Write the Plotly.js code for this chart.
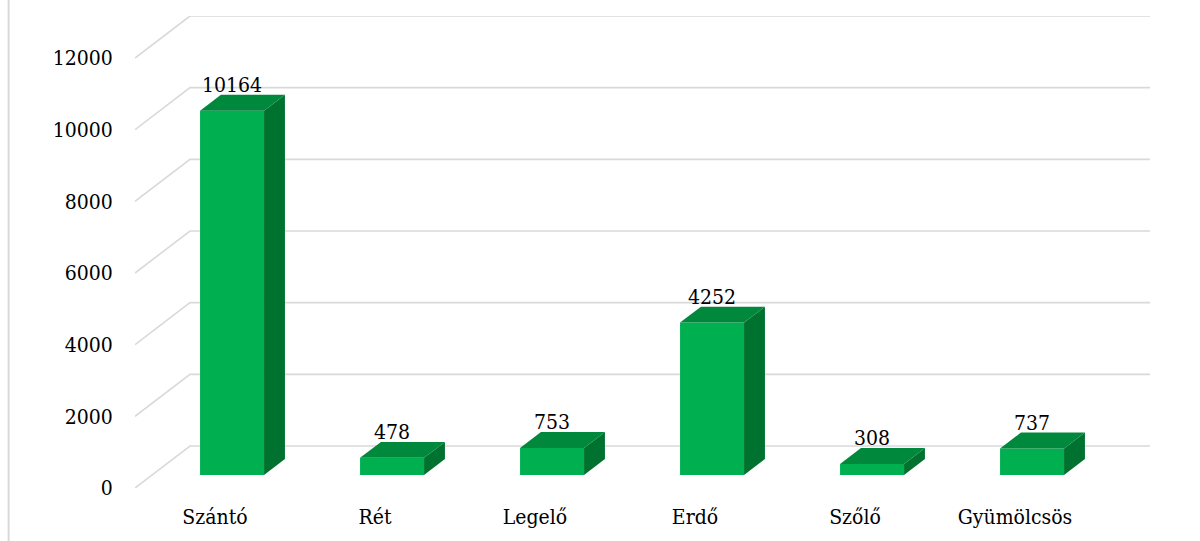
<!DOCTYPE html>
<html>
<head>
<meta charset="utf-8">
<script src="https://cdn.plot.ly/plotly-3.0.1.min.js"></script>
<style>html,body{margin:0;padding:0;background:#fff;}#chart{width:1200px;height:541px;}</style>
</head>
<body>
<div id="chart"></div>
<script>
// ---- data ----
const categories = ["Szántó", "Rét", "Legelő", "Erdő", "Szőlő", "Gyümölcsös"];
const values = [10164, 478, 753, 4252, 308, 737];
const yTickValues = [0, 2000, 4000, 6000, 8000, 10000, 12000];
const yTickLabels = ["0", "2000", "4000", "6000", "8000", "10000", "12000"];

// ---- 3D projection style (depth offsets in axis units) ----
const DEPTH_DX = 0.34375;   // x-shift from front wall to back wall (category units)
const DEPTH_DY = 1172.1;    // y-shift from front wall to back wall (value units)
const BAR_D1 = 0.31, BAR_D2 = 0.69; // bar front/back depth fraction
const BAR_W = 0.4;
const FRONT = '#00B050', TOP = '#00893D', SIDE = '#00722F';
const GRID = '#D9D9D9';
const FONT = {family: 'DejaVu Serif Condensed, DejaVu Serif', size: 21, color: '#000'};

const idx = categories.map((_, i) => i);
const n = categories.length;
const xMin = -0.5, xMax = n - 0.5 + DEPTH_DX;
const yMax = yTickValues[yTickValues.length - 1] + DEPTH_DY;

// gridlines on side and back walls (shapes below traces)
const shapes = yTickValues.map(t => ({
  type: 'path', xref: 'x', yref: 'y', layer: 'below',
  path: `M ${-0.5} ${t} L ${-0.5 + DEPTH_DX} ${t + DEPTH_DY} L ${n - 0.5 + DEPTH_DX} ${t + DEPTH_DY}`,
  line: {color: GRID, width: 1.6}
}));
// left border of chart area
shapes.push({type: 'line', xref: 'paper', yref: 'paper', x0: -0.1245, x1: -0.1245, y0: -0.2, y1: 1.2,
  line: {color: GRID, width: 2}});

const traces = [];
// front faces (bars)
const frontX = idx.map(i => i + BAR_D1 * DEPTH_DX);
traces.push({
  type: 'bar', x: frontX, y: values, base: values.map(() => BAR_D1 * DEPTH_DY),
  width: BAR_W, marker: {color: FRONT, line: {width: 0}}, hoverinfo: 'skip', showlegend: false
});
const w = BAR_D2 - BAR_D1;
values.forEach((v, i) => {
  const c = frontX[i];
  const yb = BAR_D1 * DEPTH_DY, yt = v + BAR_D1 * DEPTH_DY;
  const ddx = w * DEPTH_DX, ddy = w * DEPTH_DY;
  // side face
  traces.push({
    type: 'scatter', mode: 'lines', fill: 'toself', fillcolor: SIDE, line: {width: 0, color: SIDE},
    x: [c + BAR_W / 2, c + BAR_W / 2, c + BAR_W / 2 + ddx, c + BAR_W / 2 + ddx, c + BAR_W / 2],
    y: [yb, yt, yt + ddy, yb + ddy, yb], hoverinfo: 'skip', showlegend: false
  });
  // top face
  traces.push({
    type: 'scatter', mode: 'lines', fill: 'toself', fillcolor: TOP, line: {width: 0, color: TOP},
    x: [c - BAR_W / 2, c + BAR_W / 2, c + BAR_W / 2 + ddx, c - BAR_W / 2 + ddx, c - BAR_W / 2],
    y: [yt, yt, yt + ddy, yt + ddy, yt], hoverinfo: 'skip', showlegend: false
  });
});
// data labels
const annotations = values.map((v, i) => ({
  x: frontX[i], y: v + BAR_D2 * DEPTH_DY, xref: 'x', yref: 'y',
  text: String(v), showarrow: false, xanchor: 'center', yanchor: 'bottom', yshift: -4,
  font: FONT
}));

const layout = {
  width: 1200, height: 541,
  margin: {l: 135, r: 50, t: 16, b: 53},
  paper_bgcolor: '#fff', plot_bgcolor: 'rgba(0,0,0,0)',
  showlegend: false,
  xaxis: {
    range: [xMin, xMax], tickvals: idx, ticktext: categories,
    showgrid: false, zeroline: false, showline: false,
    ticks: 'outside', ticklen: 10, tickcolor: 'rgba(0,0,0,0)', tickfont: FONT, fixedrange: true
  },
  yaxis: {
    range: [0, yMax], tickvals: yTickValues, ticktext: yTickLabels,
    showgrid: false, zeroline: false, showline: false,
    ticks: 'outside', ticklen: 17, tickcolor: 'rgba(0,0,0,0)', tickfont: FONT, fixedrange: true
  },
  shapes: shapes,
  annotations: annotations,
  font: FONT
};
Plotly.newPlot('chart', traces, layout, {displayModeBar: false, staticPlot: true});
</script>
</body>
</html>
